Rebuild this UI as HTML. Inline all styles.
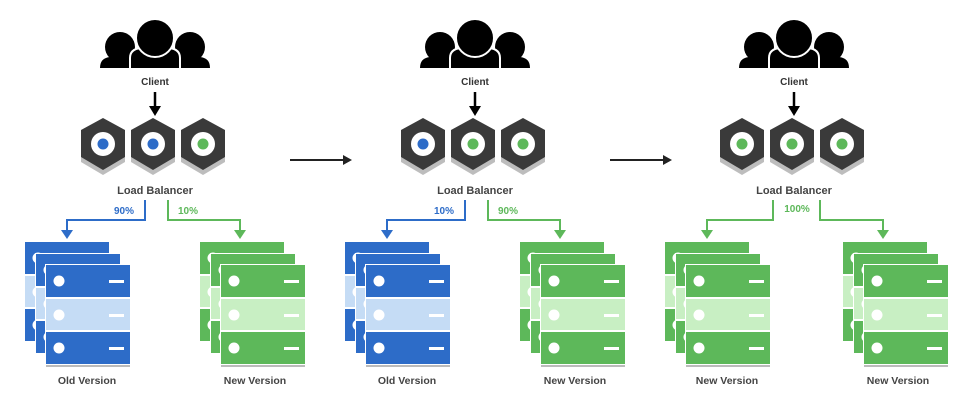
<!DOCTYPE html>
<html><head><meta charset="utf-8"><style>
html,body{margin:0;padding:0;background:#fff;}
svg{display:block}
text{font-family:"Liberation Sans",sans-serif;font-weight:bold;}
</style></head><body>
<svg width="968" height="408" viewBox="0 0 968 408" xmlns="http://www.w3.org/2000/svg">
<defs>
<g id="client">
  <circle cx="-35" cy="47" r="15" fill="#000"/>
  <circle cx="35" cy="47" r="15" fill="#000"/>
  <path d="M-55 68 Q-55 58 -45 57 L-25 57 Q-17 58 -17 68 Z" fill="#000"/>
  <path d="M17 68 Q17 58 25 57 L45 57 Q55 58 55 68 Z" fill="#000"/>
  <path d="M-25 69 L-25 58 Q-25 49 -14 48 L14 48 Q25 49 25 58 L25 69 Z" fill="#000" stroke="#fff" stroke-width="2"/>
  <circle cx="0" cy="38" r="19" fill="#000" stroke="#fff" stroke-width="2"/>
</g>
<g id="hex">
  <polygon points="22,5 44,17 44,44 22,57 0,44 0,17" fill="#bdbdbd"/>
  <polygon points="22,0 44,12 44,39 22,52 0,39 0,12" fill="#3a3a3a"/>
  <circle cx="22" cy="26" r="12" fill="#fff"/>
</g>
<g id="srvB">
  <rect x="0" y="0" width="84" height="32" fill="#2d6cc8"/>
  <rect x="0" y="34" width="84" height="31" fill="#c5dcf5"/>
  <rect x="0" y="67" width="84" height="32" fill="#2d6cc8"/>
  <circle cx="13" cy="16" r="5.5" fill="#fff"/><rect x="63" y="15" width="15" height="3" fill="#fff"/>
  <circle cx="13" cy="50" r="5.5" fill="#fff"/><rect x="63" y="49" width="15" height="3" fill="#fff"/>
  <circle cx="13" cy="83" r="5.5" fill="#fff"/><rect x="63" y="82" width="15" height="3" fill="#fff"/>
</g>
<g id="srvG">
  <rect x="0" y="0" width="84" height="32" fill="#5db85a"/>
  <rect x="0" y="34" width="84" height="31" fill="#c8efc3"/>
  <rect x="0" y="67" width="84" height="32" fill="#5db85a"/>
  <circle cx="13" cy="16" r="5.5" fill="#fff"/><rect x="63" y="15" width="15" height="3" fill="#fff"/>
  <circle cx="13" cy="50" r="5.5" fill="#fff"/><rect x="63" y="49" width="15" height="3" fill="#fff"/>
  <circle cx="13" cy="83" r="5.5" fill="#fff"/><rect x="63" y="82" width="15" height="3" fill="#fff"/>
</g>
<g id="stackB">
  <use href="#srvB" x="0" y="0"/>
  <rect x="10" y="11" width="86" height="101" fill="#fff"/>
  <use href="#srvB" x="11" y="12"/>
  <rect x="20" y="22" width="86" height="101" fill="#fff"/>
  <use href="#srvB" x="21" y="23"/>
  <rect x="21" y="123" width="84" height="2" fill="#bbb"/>
</g>
<g id="stackG">
  <use href="#srvG" x="0" y="0"/>
  <rect x="10" y="11" width="86" height="101" fill="#fff"/>
  <use href="#srvG" x="11" y="12"/>
  <rect x="20" y="22" width="86" height="101" fill="#fff"/>
  <use href="#srvG" x="21" y="23"/>
  <rect x="21" y="123" width="84" height="2" fill="#bbb"/>
</g>
</defs>

<!-- Panel 1 -->
<use href="#client" x="155" y="0"/>
<text x="155" y="85" font-size="10" text-anchor="middle" fill="#333">Client</text>
<line x1="155" y1="92" x2="155" y2="108" stroke="#000" stroke-width="2.5"/>
<path d="M149 106 L161 106 L155 116 Z" fill="#000"/>
<use href="#hex" x="81" y="118"/><use href="#hex" x="131" y="118"/><use href="#hex" x="181" y="118"/>
<circle cx="103" cy="144" r="5.5" fill="#2d6cc8"/><circle cx="153" cy="144" r="5.5" fill="#2d6cc8"/><circle cx="203" cy="144" r="5.5" fill="#5db85a"/>
<text x="155" y="194" font-size="11" text-anchor="middle" fill="#444">Load Balancer</text>
<polyline points="145,200 145,220 67,220 67,231" fill="none" stroke="#2d6cc8" stroke-width="2"/>
<path d="M61 230 L73 230 L67 239 Z" fill="#2d6cc8"/>
<polyline points="168,200 168,220 240,220 240,231" fill="none" stroke="#5db85a" stroke-width="2"/>
<path d="M234 230 L246 230 L240 239 Z" fill="#5db85a"/>
<text x="124" y="214" font-size="10" text-anchor="middle" fill="#2d6cc8">90%</text>
<text x="188" y="214" font-size="10" text-anchor="middle" fill="#5db85a">10%</text>
<use href="#stackB" x="25" y="242"/>
<use href="#stackG" x="200" y="242"/>
<text x="87" y="384" font-size="10.5" text-anchor="middle" fill="#444">Old Version</text>
<text x="255" y="384" font-size="10.5" text-anchor="middle" fill="#444">New Version</text>

<!-- big arrows -->
<line x1="290" y1="160" x2="346" y2="160" stroke="#222" stroke-width="2"/>
<path d="M343 155 L352 160 L343 165 Z" fill="#222"/>
<line x1="610" y1="160" x2="666" y2="160" stroke="#222" stroke-width="2"/>
<path d="M663 155 L672 160 L663 165 Z" fill="#222"/>

<!-- Panel 2 -->
<use href="#client" x="475" y="0"/>
<text x="475" y="85" font-size="10" text-anchor="middle" fill="#333">Client</text>
<line x1="475" y1="92" x2="475" y2="108" stroke="#000" stroke-width="2.5"/>
<path d="M469 106 L481 106 L475 116 Z" fill="#000"/>
<use href="#hex" x="401" y="118"/><use href="#hex" x="451" y="118"/><use href="#hex" x="501" y="118"/>
<circle cx="423" cy="144" r="5.5" fill="#2d6cc8"/><circle cx="473" cy="144" r="5.5" fill="#5db85a"/><circle cx="523" cy="144" r="5.5" fill="#5db85a"/>
<text x="475" y="194" font-size="11" text-anchor="middle" fill="#444">Load Balancer</text>
<polyline points="465,200 465,220 387,220 387,231" fill="none" stroke="#2d6cc8" stroke-width="2"/>
<path d="M381 230 L393 230 L387 239 Z" fill="#2d6cc8"/>
<polyline points="488,200 488,220 560,220 560,231" fill="none" stroke="#5db85a" stroke-width="2"/>
<path d="M554 230 L566 230 L560 239 Z" fill="#5db85a"/>
<text x="444" y="214" font-size="10" text-anchor="middle" fill="#2d6cc8">10%</text>
<text x="508" y="214" font-size="10" text-anchor="middle" fill="#5db85a">90%</text>
<use href="#stackB" x="345" y="242"/>
<use href="#stackG" x="520" y="242"/>
<text x="407" y="384" font-size="10.5" text-anchor="middle" fill="#444">Old Version</text>
<text x="575" y="384" font-size="10.5" text-anchor="middle" fill="#444">New Version</text>

<!-- Panel 3 -->
<use href="#client" x="794" y="0"/>
<text x="794" y="85" font-size="10" text-anchor="middle" fill="#333">Client</text>
<line x1="794" y1="92" x2="794" y2="108" stroke="#000" stroke-width="2.5"/>
<path d="M788 106 L800 106 L794 116 Z" fill="#000"/>
<use href="#hex" x="720" y="118"/><use href="#hex" x="770" y="118"/><use href="#hex" x="820" y="118"/>
<circle cx="742" cy="144" r="5.5" fill="#5db85a"/><circle cx="792" cy="144" r="5.5" fill="#5db85a"/><circle cx="842" cy="144" r="5.5" fill="#5db85a"/>
<text x="794" y="194" font-size="11" text-anchor="middle" fill="#444">Load Balancer</text>
<polyline points="773,200 773,220 707,220 707,231" fill="none" stroke="#5db85a" stroke-width="2"/>
<path d="M701 230 L713 230 L707 239 Z" fill="#5db85a"/>
<polyline points="820,200 820,220 883,220 883,231" fill="none" stroke="#5db85a" stroke-width="2"/>
<path d="M877 230 L889 230 L883 239 Z" fill="#5db85a"/>
<text x="797" y="212" font-size="10" text-anchor="middle" fill="#5db85a">100%</text>
<use href="#stackG" x="665" y="242"/>
<use href="#stackG" x="843" y="242"/>
<text x="727" y="384" font-size="10.5" text-anchor="middle" fill="#444">New Version</text>
<text x="898" y="384" font-size="10.5" text-anchor="middle" fill="#444">New Version</text>
</svg>
</body></html>
